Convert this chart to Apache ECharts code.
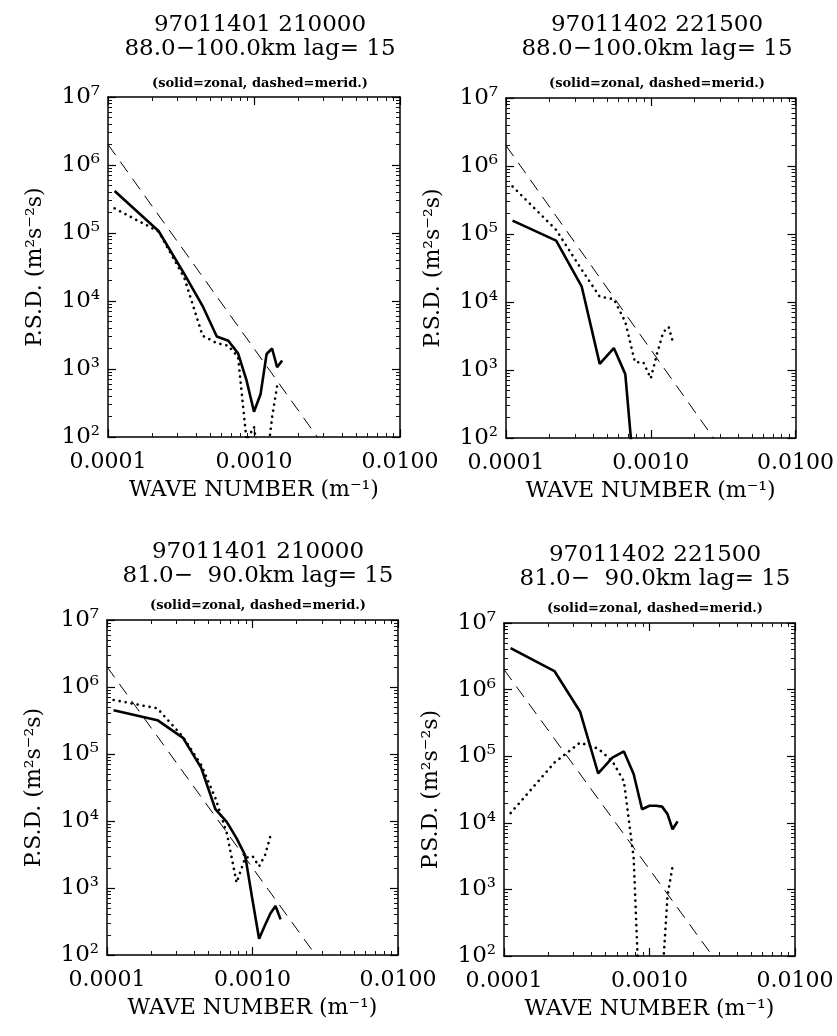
<!DOCTYPE html>
<html>
<head>
<meta charset="utf-8">
<script src="https://cdn.jsdelivr.net/npm/echarts@6/dist/echarts.min.js"></script>
<style>html,body{margin:0;background:#fff}#chart{width:837px;height:1036px}</style>
</head>
<body>
<div id="chart"></div>
<script>
// wave numbers of the spectral estimates (m^-1)
const waveNumbers = [0.000111, 0.000222, 0.000333, 0.000444, 0.000556, 0.000667, 0.000778,
  0.000889, 0.001, 0.00111, 0.00122, 0.00133, 0.00144, 0.00156];

// P.S.D. values (m^2 s^-2 s)
const zonal1 = [4.15e5, 1.07e5, 2.5e4, 8.5e3, 3.0e3, 2.6e3, 1.7e3, 680, 235, 430, 1.66e3, 2.0e3, 1.06e3, 1.33e3];
const merid1 = [2.3e5, 1.05e5, 2.2e4, 3.1e3, 2.4e3, 2.2e3, 1.5e3, 90, 140, 30, 40, 195, 560];
const zonal2 = [1.57e5, 8.0e4, 1.7e4, 1.23e3, 2.1e3, 870, 20];
const merid2 = [5.0e5, 1.15e5, 3.0e4, 1.2e4, 1.1e4, 5.1e3, 1.3e3, 1.3e3, 750, 1.8e3, 3.6e3, 4.3e3, 2.35e3];
const zonal3 = [4.5e5, 3.2e5, 1.74e5, 6.2e4, 1.5e4, 9.6e3, 5.5e3, 3.1e3, 660, 175, 280, 420, 540, 340];
const merid3 = [6.4e5, 4.8e5, 1.8e5, 6.9e4, 2.2e4, 6.5e3, 1.2e3, 2.8e3, 3.0e3, 2.1e3, 3.1e3, 6.0e3];
const zonal4 = [4.2e6, 1.9e6, 4.7e5, 5.5e4, 9.5e4, 1.18e5, 5.4e4, 1.6e4, 1.8e4, 1.8e4, 1.75e4, 1.35e4, 8.0e3, 1.05e4];
const merid4 = [1.4e4, 8.0e4, 1.6e5, 1.3e5, 8.4e4, 4.2e4, 3.0e3, 2, 0.5, 0.5, 40, 800, 2.2e3];

// k^-3 reference line end points
const refLine = [[0.0001, 2.0e6], [0.01, 2]];

const titles = [
  '97011401 210000\n88.0\u2212100.0km lag= 15',
  '97011402 221500\n88.0\u2212100.0km lag= 15',
  '97011401 210000\n81.0\u2212  90.0km lag= 15',
  '97011402 221500\n81.0\u2212  90.0km lag= 15',
];
const subtitle = '(solid=zonal, dashed=merid.)';
const xName = 'WAVE NUMBER (m\u207B\u00B9)';
const yName = 'P.S.D. (m\u00B2s\u207B\u00B2s)';
const supDigits = ['\u2070', '\u00B9', '\u00B2', '\u00B3', '\u2074', '\u2075', '\u2076', '\u2077'];

const zonal = [zonal1, zonal2, zonal3, zonal4];
const merid = [merid1, merid2, merid3, merid4];

// axis ranges in decades
const xDecades = [-4, -2];
const yDecades = [2, 7];

const layout = [
  { left: 108, top: 97, width: 292, height: 340, cx: 255, ty: 8, sy: 72 },
  { left: 506, top: 98, width: 290, height: 340, cx: 652, ty: 8, sy: 72 },
  { left: 107, top: 620, width: 291, height: 335, cx: 253, ty: 535, sy: 594 },
  { left: 504, top: 623, width: 291, height: 333, cx: 650, ty: 538, sy: 597 },
];

const FONT = 'DejaVu Serif';

function minorTicks(range) {
  const out = [];
  for (let d = range[0]; d < range[1]; d++) {
    for (let m = 2; m <= 9; m++) out.push(d + Math.log10(m));
  }
  return out;
}

const pairs = (vals) => vals.map((v, i) => [waveNumbers[i], v]);

const grid = [], xAxis = [], yAxis = [], series = [], title = [];

layout.forEach((g, i) => {
  grid.push({ left: g.left, top: g.top, width: g.width, height: g.height });
  title.push({
    text: titles[i], left: g.cx, top: g.ty, textAlign: 'center',
    textStyle: { fontFamily: FONT, fontSize: 23, fontWeight: 'normal', lineHeight: 24, color: '#000' },
  });
  title.push({
    text: subtitle, left: g.cx, top: g.sy, textAlign: 'center',
    textStyle: { fontFamily: FONT, fontSize: 13, fontWeight: 'bold', color: '#000' },
  });

  const xBase = xAxis.length, yBase = yAxis.length;
  // log axes that carry the data (not drawn)
  xAxis.push({ type: 'log', gridIndex: i, min: 0.0001, max: 0.01, show: false });
  yAxis.push({ type: 'log', gridIndex: i, min: 100, max: 1e7, show: false });

  // box axes in decades: major ticks + labels, then minor ticks
  ['bottom', 'top'].forEach((pos) => {
    xAxis.push({
      type: 'value', gridIndex: i, position: pos, min: xDecades[0], max: xDecades[1], interval: 1,
      axisLine: { show: true, onZero: false, lineStyle: { color: '#000', width: 1.5 } },
      axisTick: { show: true, inside: true, length: 8, lineStyle: { color: '#000', width: 1.2 } },
      splitLine: { show: false },
      axisLabel: {
        show: pos === 'bottom', margin: 14, fontFamily: FONT, fontSize: 22, color: '#000',
        formatter: (v) => Math.pow(10, v).toFixed(4),
      },
      name: pos === 'bottom' ? xName : '',
      nameLocation: 'middle', nameGap: 42,
      nameTextStyle: { fontFamily: FONT, fontSize: 22, color: '#000' },
    });
    xAxis.push({
      type: 'value', gridIndex: i, position: pos, min: xDecades[0], max: xDecades[1],
      axisLine: { show: false, onZero: false },
      axisTick: { show: true, inside: true, length: 4, customValues: minorTicks(xDecades), lineStyle: { color: '#111', width: 1 } },
      axisLabel: { show: false }, splitLine: { show: false },
    });
  });
  ['left', 'right'].forEach((pos) => {
    yAxis.push({
      type: 'value', gridIndex: i, position: pos, min: yDecades[0], max: yDecades[1], interval: 1,
      axisLine: { show: true, onZero: false, lineStyle: { color: '#000', width: 1.5 } },
      axisTick: { show: true, inside: true, length: 8, lineStyle: { color: '#000', width: 1.2 } },
      splitLine: { show: false },
      axisLabel: {
        show: pos === 'left', margin: 8, fontFamily: FONT, fontSize: 23, color: '#000',
        formatter: (v) => '10' + supDigits[v],
      },
      name: pos === 'left' ? yName : '',
      nameLocation: 'middle', nameGap: 62, nameRotate: 90,
      nameTextStyle: { fontFamily: FONT, fontSize: 22, color: '#000' },
    });
    yAxis.push({
      type: 'value', gridIndex: i, position: pos, min: yDecades[0], max: yDecades[1],
      axisLine: { show: false, onZero: false },
      axisTick: { show: true, inside: true, length: 4, customValues: minorTicks(yDecades), lineStyle: { color: '#111', width: 1 } },
      axisLabel: { show: false }, splitLine: { show: false },
    });
  });

  // curves (unnamed)
  const common = { type: 'line', xAxisIndex: xBase, yAxisIndex: yBase, symbol: 'none' };
  series.push({ ...common, data: refLine,
    lineStyle: { color: '#000', width: 1, type: [13, 8] } });
  series.push({ ...common, data: pairs(merid[i]),
    lineStyle: { color: '#000', width: 2.6, type: [0.1, 6], cap: 'round' } });
  series.push({ ...common, data: pairs(zonal[i]),
    lineStyle: { color: '#000', width: 2.6 } });
});

const chart = echarts.init(document.getElementById('chart'));
chart.setOption({ backgroundColor: '#fff', animation: false, title, grid, xAxis, yAxis, series });
</script>
</body>
</html>
